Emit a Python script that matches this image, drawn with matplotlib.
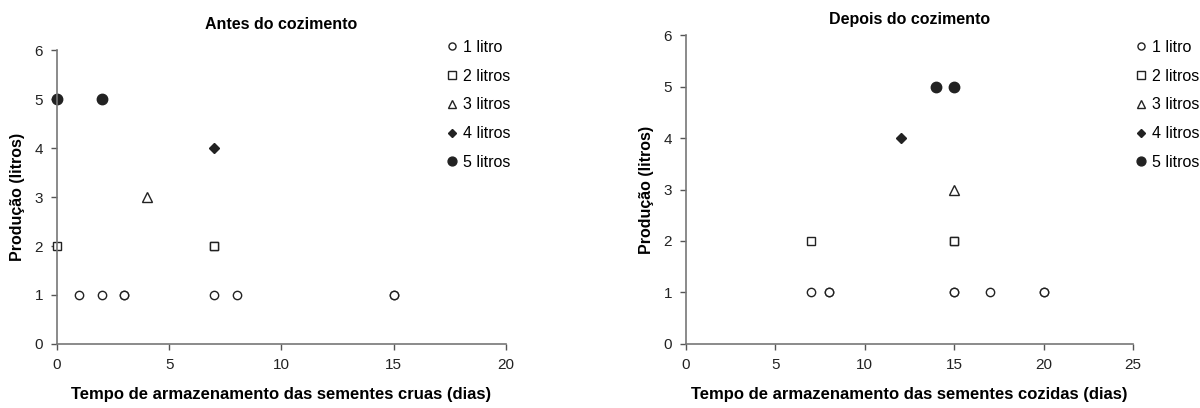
"""
Produção vs tempo de armazenamento das sementes (antes/depois do cozimento)
"""
import matplotlib
matplotlib.use('Agg')
import matplotlib.pyplot as plt  # pylint: disable=wrong-import-position

plt.rcParams['font.family'] = ['Liberation Sans', 'DejaVu Sans']

labels = ['1 litro', '2 litros', '3 litros', '4 litros', '5 litros']
prod = [1, 2, 3, 4, 5]

# Antes do cozimento (dias de armazenamento por nível de produção)
antes_x = [
    [1, 2, 3, 3, 7, 8, 15, 15],
    [0, 7, 7],
    [4],
    [7],
    [0, 2],
]
# Depois do cozimento
depois_x = [
    [7, 8, 8, 15, 15, 17, 20, 20],
    [7, 15, 15],
    [15],
    [12],
    [14, 15],
]

markers = ['o', 's', '^', 'D', 'o']
faces = ['white', 'white', 'white', '#222222', '#222222']
sizes = [6, 6, 6.5, 5, 7.5]


def draw(ax, xs, title, xlabel, xmax, title_pad, legend_xy):
    for i, x in enumerate(xs):
        ax.plot(x, [prod[i]] * len(x), linestyle='none', marker=markers[i],
                markersize=sizes[i], markerfacecolor=faces[i],
                markeredgecolor='#222222', markeredgewidth=1.0,
                label=labels[i], clip_on=False)
    ax.set_xlim(0, xmax)
    ax.set_ylim(0, 6)
    ax.set_yticks(range(0, 7))
    ax.set_xticks(range(0, xmax + 1, 5))
    for s in ['top', 'right']:
        ax.spines[s].set_visible(False)
    for s in ['left', 'bottom']:
        ax.spines[s].set_color('#777777')
        ax.spines[s].set_linewidth(1.2)
    ax.tick_params(direction='out', length=4, width=1, color='#555555',
                   labelsize=11, labelcolor='#222222', pad=6)
    ax.set_title(title, fontsize=11.5, fontweight='bold', pad=title_pad)
    ax.set_xlabel(xlabel, fontsize=12, fontweight='bold', labelpad=11)
    ax.set_ylabel('Produção (litros)', fontsize=11.5, fontweight='bold', labelpad=7)
    ax.legend(loc='upper left', bbox_to_anchor=legend_xy,
              bbox_transform=ax.figure.transFigure, frameon=False,
              borderpad=0, borderaxespad=0,
              fontsize=11.5, handletextpad=0.45, labelspacing=0.86,
              handlelength=0.5, markerscale=0.85)


fig = plt.figure(figsize=(12, 4.08), dpi=100)
ax1 = fig.add_axes([0.0475, 0.157, 0.374, 0.72])
ax2 = fig.add_axes([0.5717, 0.157, 0.3725, 0.757])

draw(ax1, antes_x, 'Antes do cozimento',
     'Tempo de armazenamento das sementes cruas (dias)', 20, 15,
     (448 / 1200, 1 - 40 / 408))
draw(ax2, depois_x, 'Depois do cozimento',
     'Tempo de armazenamento das sementes cozidas (dias)', 25, 8,
     (1137 / 1200, 1 - 40 / 408))

fig.savefig('out.png', dpi=100)
